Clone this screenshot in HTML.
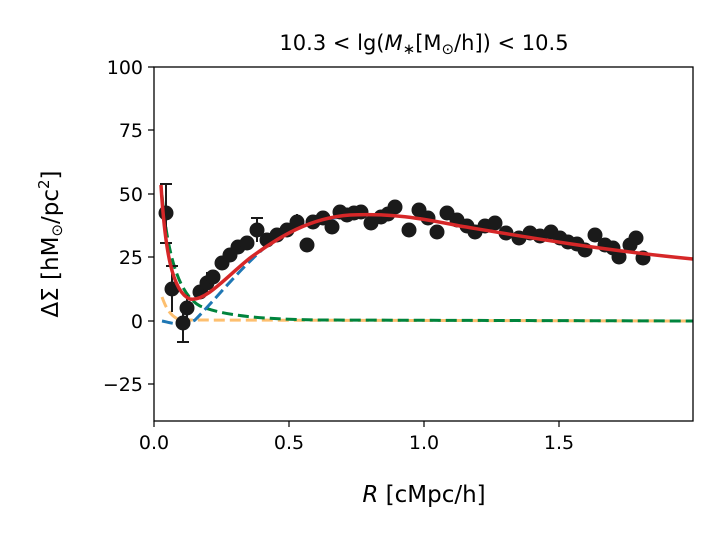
<!DOCTYPE html>
<html><head><meta charset="utf-8"><style>
body{margin:0;background:#fff}
svg{display:block;font-family:"DejaVu Sans","Liberation Sans",sans-serif}
</style></head><body>
<svg width="720" height="540" viewBox="0 0 720 540" xmlns="http://www.w3.org/2000/svg">
<rect width="720" height="540" fill="#fff"/>
<defs><clipPath id="c"><rect x="154" y="67" width="539" height="354"/></clipPath></defs>
<g clip-path="url(#c)">
<path d="M162,297 C166,308 170,316 180,320 L693,321" fill="none" stroke="#fdbf6f" stroke-width="3" stroke-dasharray="11,5"/>
<path d="M162,195 C168,260 180,295 200,306 C225,316 260,319 320,320 L693,321" fill="none" stroke="#00843d" stroke-width="3" stroke-dasharray="11,5"/>
<path d="M162,321 C172,323 182,327 195,320 C215,300 240,268 270,243 C295,226 320,219 350,216" fill="none" stroke="#1f77b4" stroke-width="3" stroke-dasharray="11,5"/>
<g stroke="#1a1a1a" stroke-width="2" fill="#1a1a1a">
<path d="M166,184V243M160,184h12M160,243h12M172,266V312M166,266h12M183,304V342M177,342h12M187,295V322M207,272V294M257,218V242M251,218h12M297,214V230M340,205V219M395,200V214M419,203V217"/>
<g stroke="none">
<circle cx="166" cy="213" r="7.5"/><circle cx="172" cy="289" r="7.5"/><circle cx="183" cy="323" r="7.5"/><circle cx="187" cy="308" r="7.5"/>
<circle cx="200" cy="292" r="7.5"/><circle cx="207" cy="283" r="7.5"/><circle cx="213" cy="277" r="7.5"/><circle cx="222" cy="263" r="7.5"/><circle cx="230" cy="255" r="7.5"/>
<circle cx="238" cy="247" r="7.5"/><circle cx="247" cy="243" r="7.5"/><circle cx="257" cy="230" r="7.5"/><circle cx="267" cy="240" r="7.5"/>
<circle cx="277" cy="235" r="7.5"/><circle cx="287" cy="230" r="7.5"/><circle cx="297" cy="222" r="7.5"/><circle cx="307" cy="245" r="7.5"/>
<circle cx="313" cy="222" r="7.5"/><circle cx="323" cy="218" r="7.5"/><circle cx="332" cy="227" r="7.5"/><circle cx="340" cy="212" r="7.5"/>
<circle cx="347" cy="215" r="7.5"/><circle cx="354" cy="213" r="7.5"/><circle cx="361" cy="212" r="7.5"/><circle cx="371" cy="223" r="7.5"/><circle cx="381" cy="217" r="7.5"/>
<circle cx="388" cy="214" r="7.5"/><circle cx="395" cy="207" r="7.5"/><circle cx="409" cy="230" r="7.5"/><circle cx="419" cy="210" r="7.5"/><circle cx="428" cy="218" r="7.5"/><circle cx="437" cy="232" r="7.5"/>
<circle cx="447" cy="213" r="7.5"/><circle cx="457" cy="220" r="7.5"/><circle cx="467" cy="226" r="7.5"/><circle cx="475" cy="232" r="7.5"/>
<circle cx="485" cy="226" r="7.5"/><circle cx="495" cy="223" r="7.5"/><circle cx="506" cy="233" r="7.5"/><circle cx="519" cy="238" r="7.5"/><circle cx="530" cy="233" r="7.5"/>
<circle cx="540" cy="236" r="7.5"/><circle cx="551" cy="232" r="7.5"/><circle cx="560" cy="238" r="7.5"/><circle cx="568" cy="242" r="7.5"/><circle cx="577" cy="244" r="7.5"/><circle cx="585" cy="250" r="7.5"/>
<circle cx="595" cy="235" r="7.5"/><circle cx="605" cy="245" r="7.5"/><circle cx="613" cy="248" r="7.5"/><circle cx="619" cy="257" r="7.5"/>
<circle cx="630" cy="245" r="7.5"/><circle cx="636" cy="238" r="7.5"/><circle cx="643" cy="258" r="7.5"/>
</g></g>
<path d="M161,185 C165,250 172,292 190,299 C205,302 225,278 250,258 C280,236 310,218 350,215 C390,213 420,218 460,226 C520,236 600,250 693,259" fill="none" stroke="#d62728" stroke-width="3.5"/>
</g>
<rect x="154" y="67" width="539" height="354" fill="none" stroke="#000" stroke-width="1.3"/>
<g stroke="#000" stroke-width="1.2">
<path d="M154,421v6M289,421v6M424,421v6M559,421v6"/>
<path d="M154,67h-6M154,130h-6M154,194h-6M154,257h-6M154,321h-6M154,384h-6"/>
</g>
<g font-size="19" fill="#000" text-anchor="middle">
<text x="154" y="449">0.0</text><text x="289" y="449">0.5</text><text x="424" y="449">1.0</text><text x="559" y="449">1.5</text>
</g>
<g font-size="19" fill="#000" text-anchor="end">
<text x="143" y="74">100</text><text x="143" y="137">75</text><text x="143" y="201">50</text><text x="143" y="264">25</text><text x="143" y="328">0</text><text x="143" y="391">−25</text>
</g>
<text x="424" y="502" font-size="23" text-anchor="middle"><tspan font-style="italic">R</tspan> [cMpc/h]</text>
<text transform="translate(58,244) rotate(-90)" font-size="23" text-anchor="middle">ΔΣ [hM<tspan font-size="15" dy="4">⊙</tspan><tspan dy="-4">/pc</tspan><tspan font-size="15" dy="-9">2</tspan><tspan dy="9">]</tspan></text>
<text x="424" y="50" font-size="21" text-anchor="middle">10.3 &lt; lg(<tspan font-style="italic">M</tspan><tspan font-size="15" dy="4">∗</tspan><tspan dy="-4">[M</tspan><tspan font-size="15" dy="4">⊙</tspan><tspan dy="-4">/h]) &lt; 10.5</tspan></text>
</svg>
</body></html>
